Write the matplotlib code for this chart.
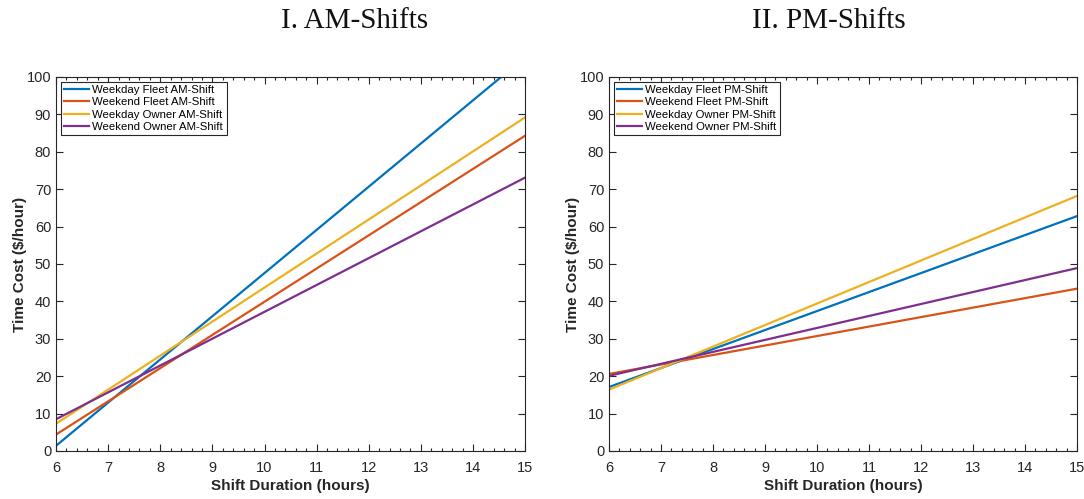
import numpy as np
import matplotlib.pyplot as plt
from matplotlib.ticker import MultipleLocator

plt.rcParams['font.family'] = ['Liberation Sans', 'DejaVu Sans']

# shift duration endpoints (hours)
hours = [6, 15]

# time cost ($/hour) at 6 h and 15 h
am_weekday_fleet = [1.4, 105.3]
am_weekend_fleet = [4.4, 84.3]
am_weekday_owner = [7.3, 89.2]
am_weekend_owner = [8.5, 73.1]

pm_weekday_fleet = [17.1, 62.8]
pm_weekend_fleet = [20.6, 43.4]
pm_weekday_owner = [16.4, 68.2]
pm_weekend_owner = [20.1, 48.9]

am_labels = ['Weekday Fleet AM-Shift', 'Weekend Fleet AM-Shift',
             'Weekday Owner AM-Shift', 'Weekend Owner AM-Shift']
pm_labels = ['Weekday Fleet PM-Shift', 'Weekend Fleet PM-Shift',
             'Weekday Owner PM-Shift', 'Weekend Owner PM-Shift']

colors = ['#0072BD', '#D95319', '#EDB120', '#7E2F8E']
dark = '#262626'

fig = plt.figure(figsize=(10.84, 4.99), dpi=100)
ax1 = fig.add_axes([0.0517, 0.0962, 0.4327, 0.7495])
ax2 = fig.add_axes([0.5618, 0.0962, 0.4317, 0.7495])

panels = [
    (ax1, [am_weekday_fleet, am_weekend_fleet, am_weekday_owner, am_weekend_owner], am_labels),
    (ax2, [pm_weekday_fleet, pm_weekend_fleet, pm_weekday_owner, pm_weekend_owner], pm_labels),
]

for ax, series, labels in panels:
    for vals, lab, c in zip(series, labels, colors):
        ax.plot(hours, vals, color=c, lw=1.6, label=lab)
    ax.set_xlim(6, 15)
    ax.set_ylim(0, 100)
    ax.xaxis.set_major_locator(MultipleLocator(1))
    ax.xaxis.set_minor_locator(MultipleLocator(0.2))
    ax.yaxis.set_major_locator(MultipleLocator(10))
    ax.tick_params(which='both', direction='in', top=True, right=True,
                   colors=dark, labelsize=10.5, width=0.8)
    ax.tick_params(which='major', length=5)
    ax.tick_params(which='minor', length=2.5)
    ax.tick_params(axis='x', which='major', pad=7)
    for sp in ax.spines.values():
        sp.set_color(dark)
        sp.set_linewidth(0.8)
    ax.set_xlabel('Shift Duration (hours)', fontsize=11, fontweight='bold',
                  color=dark, labelpad=3)
    ax.set_ylabel(r'Time Cost (\$/hour)', fontsize=11, fontweight='bold',
                  color=dark, labelpad=0)
    leg = ax.legend(loc='upper left', fontsize=8.2, handlelength=2.2,
                    handletextpad=0.3, labelspacing=0.2, borderpad=0.3,
                    borderaxespad=0.4, fancybox=False, framealpha=1)
    leg.get_frame().set_edgecolor(dark)
    leg.get_frame().set_linewidth(0.8)

fig.text(0.327, 0.958, 'I. AM-Shifts', ha='center', va='center',
         fontsize=21, family=['Liberation Serif', 'DejaVu Serif'], color='#111111')
fig.text(0.765, 0.958, 'II. PM-Shifts', ha='center', va='center',
         fontsize=21, family=['Liberation Serif', 'DejaVu Serif'], color='#111111')

fig.savefig('out.png', dpi=100, facecolor='white')
